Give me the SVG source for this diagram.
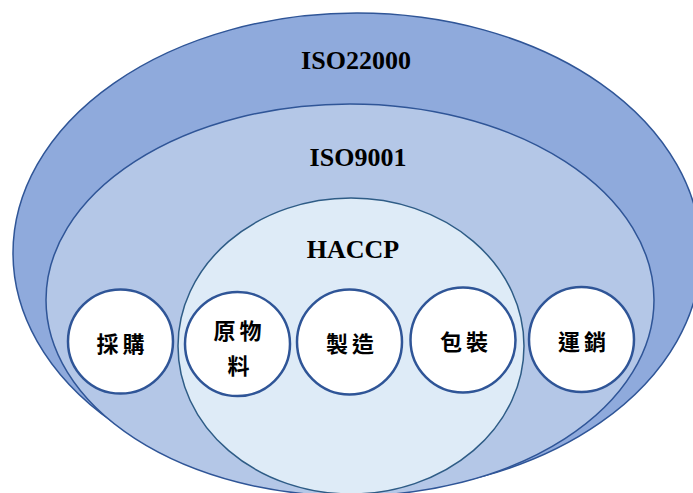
<svg xmlns="http://www.w3.org/2000/svg" width="693" height="493" viewBox="0 0 693 493">
<style>
.ring{stroke:#2F5597;stroke-width:1.5}
.inner{stroke:#2E5C86;stroke-width:1.5}
.node{fill:#FFFFFF;stroke:#2F5597;stroke-width:2.5}
.title{font-family:"Liberation Serif","Times New Roman",serif;font-weight:bold;font-size:26px;fill:#000;text-anchor:middle}
.lbl{font-family:"Noto Sans CJK TC","Noto Sans CJK SC",sans-serif;font-weight:bold;font-size:22px;fill:#000;text-anchor:middle;letter-spacing:4px}
</style>
<rect width="693" height="493" fill="#FFFFFF"/>
<g id="iso22000">
<ellipse class="ring" cx="357" cy="253" rx="344" ry="240" fill="#8FAADC"/>
<text class="title" x="356" y="69">ISO22000</text>
</g>
<g id="iso9001">
<ellipse class="ring" cx="350" cy="300" rx="304" ry="196" fill="#B4C7E7"/>
<text class="title" x="358" y="166">ISO9001</text>
</g>
<g id="haccp">
<ellipse class="inner" cx="351" cy="346" rx="173" ry="148" fill="#DEEBF7"/>
<text class="title" x="353" y="258">HACCP</text>
</g>
<g id="connectors"></g>
<g id="n1">
<ellipse class="node" cx="120.5" cy="341.5" rx="52.5" ry="52"/>
<text class="lbl" x="122.5" y="352">採購</text>
</g>
<g id="n2">
<ellipse class="node" cx="237.5" cy="344" rx="52.5" ry="52"/>
<text class="lbl" x="239.5" y="339">原物</text>
<text class="lbl" x="240.5" y="374">料</text>
</g>
<g id="n3">
<ellipse class="node" cx="349.5" cy="342" rx="52.5" ry="52.5"/>
<text class="lbl" x="352" y="352">製造</text>
</g>
<g id="n4">
<ellipse class="node" cx="463" cy="340" rx="52.5" ry="52.5"/>
<text class="lbl" x="466" y="350">包裝</text>
</g>
<g id="n5">
<ellipse class="node" cx="581.5" cy="339.5" rx="52.5" ry="52.5"/>
<text class="lbl" x="584" y="350">運銷</text>
</g>
</svg>
